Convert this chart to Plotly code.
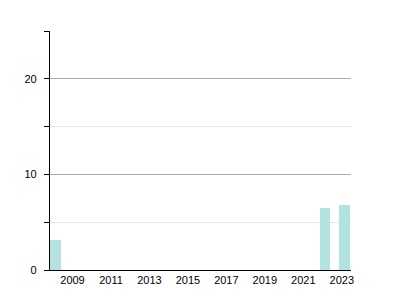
import plotly.graph_objects as go

years = list(range(2008, 2024))
values = [3.1, 0, 0, 0, 0, 0, 0, 0, 0, 0, 0, 0, 0, 0, 6.5, 6.8]
xtick_years = [2009, 2011, 2013, 2015, 2017, 2019, 2021, 2023]
xtick_text = [str(y) for y in xtick_years]

label_shift = -0.13
fig = go.Figure(go.Bar(x=years, y=values, marker_color="#b3e3e0", width=0.56,
                       marker_line_width=0))

fig.update_layout(
    width=400, height=300,
    margin=dict(l=50, r=49, t=31, b=30),
    plot_bgcolor="white", paper_bgcolor="white",
    font=dict(family="Liberation Sans, Arial, sans-serif", size=11, color="black"),
    showlegend=False,
    bargap=0,
)
fig.update_xaxes(range=[2007.7, 2023.35],
                 tickvals=[y + label_shift for y in xtick_years], ticktext=xtick_text,
                 showgrid=False, showline=True, linecolor="black", linewidth=1.2,
                 ticks="", zeroline=False, tickfont=dict(size=11))
fig.update_yaxes(range=[0, 25], dtick=10, tick0=0, showgrid=True, gridcolor="#aaaaaa",
                 gridwidth=1, showline=True, linecolor="black", linewidth=1.2,
                 ticks="outside", ticklen=5, tickcolor="black", zeroline=False,
                 ticklabelstandoff=5,
                 minor=dict(dtick=5, tick0=0, ticks="outside", ticklen=5, tickcolor="black",
                            showgrid=True, gridcolor="#e6e6e6", gridwidth=1),
                 tickfont=dict(size=11))

fig.write_html("out.html")
